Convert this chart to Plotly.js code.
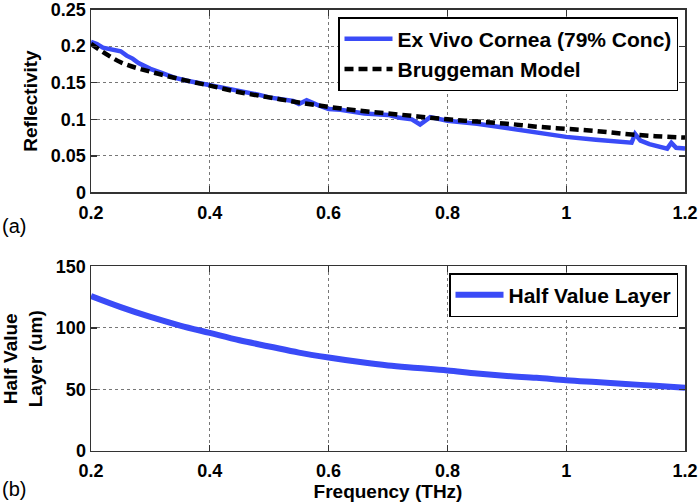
<!DOCTYPE html>
<html>
<head>
<meta charset="utf-8">
<script src="https://cdn.plot.ly/plotly-3.0.1.min.js"></script>
<style>html,body{margin:0;padding:0;background:#fff;}#chart{width:700px;height:503px;}</style>
</head>
<body>
<div id="chart"></div>
<script>
// ---- Data ----
const freqCornea = [0.20,0.21,0.22,0.23,0.24,0.25,0.26,0.27,0.28,0.30,0.32,0.34,0.36,0.38,0.40,0.42,0.44,0.46,0.48,0.50,0.52,0.54,0.55,0.563,0.58,0.60,0.62,0.64,0.66,0.70,0.72,0.74,0.754,0.771,0.80,0.85,0.90,0.95,1.00,1.05,1.08,1.10,1.11,1.116,1.125,1.14,1.16,1.17,1.177,1.185,1.20];
const reflectCornea = [0.206,0.203,0.198,0.196,0.195,0.193,0.187,0.183,0.177,0.169,0.163,0.157,0.153,0.150,0.147,0.144,0.140,0.137,0.134,0.130,0.128,0.125,0.121,0.126,0.120,0.114,0.113,0.111,0.108,0.106,0.102,0.100,0.093,0.103,0.098,0.094,0.088,0.081,0.076,0.072,0.070,0.069,0.068,0.080,0.071,0.066,0.063,0.060,0.068,0.061,0.060];

const freqModel = [0.20,0.25,0.30,0.35,0.40,0.45,0.50,0.55,0.60,0.65,0.70,0.75,0.80,0.85,0.90,0.95,1.00,1.05,1.10,1.15,1.20];
const reflectModel = [0.203,0.178,0.165,0.155,0.146,0.137,0.130,0.123,0.117,0.112,0.108,0.104,0.100,0.097,0.094,0.090,0.087,0.084,0.080,0.077,0.075];

const freqHVL = [0.20,0.25,0.30,0.35,0.40,0.45,0.50,0.55,0.60,0.65,0.70,0.75,0.80,0.85,0.90,0.95,1.00,1.05,1.10,1.15,1.20];
const halfValueLayer = [126,117,109,102,96,90,85,80,76,72.5,69.5,67.5,65.5,63,61,59.5,57.5,56,54.5,53,51.5];

const xTicks = [0.2,0.4,0.6,0.8,1,1.2];
const xTickText = ['0.2','0.4','0.6','0.8','1','1.2'];
const yTicksTop = [0,0.05,0.1,0.15,0.2,0.25];
const yTickTextTop = ['0','0.05','0.1','0.15','0.2','0.25'];
const yTicksBottom = [0,50,100,150];
const yTickTextBottom = ['0','50','100','150'];

const seriesNames = ['Ex Vivo Cornea (79% Conc)','Bruggeman Model','Half Value Layer'];

// ---- Styling ----
const BLUE = '#3a4bf7';
const FONT = 'Liberation Sans, Arial, Helvetica, sans-serif';
const tickFont = {family: FONT, size: 18, color: '#000', weight: 'bold'};
const bold = arr => arr.map(t => '<b>' + t + '</b>');

const axisCommon = {
  showline: true, linecolor: '#333', linewidth: 1.5, mirror: 'ticks',
  ticks: 'inside', ticklen: 6, tickcolor: '#333', tickwidth: 1.2,
  showgrid: true, gridcolor: '#777', gridwidth: 1, griddash: 'dot',
  zeroline: false, tickfont: tickFont, automargin: false, ticklabeloverflow: 'allow'
};

const traces = [
  {x: freqCornea, y: reflectCornea, name: seriesNames[0], type: 'scatter', mode: 'lines',
   line: {color: BLUE, width: 4.5}, xaxis: 'x', yaxis: 'y', legend: 'legend'},
  {x: freqModel, y: reflectModel, name: seriesNames[1], type: 'scatter', mode: 'lines',
   line: {color: '#000', width: 4.5, dash: '9px,5px', shape: 'spline'}, xaxis: 'x', yaxis: 'y', legend: 'legend'},
  {x: freqHVL, y: halfValueLayer, name: seriesNames[2], type: 'scatter', mode: 'lines',
   line: {color: BLUE, width: 6, shape: 'spline'}, xaxis: 'x2', yaxis: 'y2', legend: 'legend2'}
];

const layout = {
  width: 700, height: 503,
  margin: {l: 0, r: 0, t: 0, b: 0},
  paper_bgcolor: '#fff', plot_bgcolor: '#fff',
  font: {family: FONT, color: '#000'},
  xaxis: Object.assign({}, axisCommon, {domain: [0.13, 0.9786], range: [0.2, 1.2],
    tickvals: xTicks, ticktext: bold(xTickText), anchor: 'y', ticklabelstandoff: 3}),
  yaxis: Object.assign({}, axisCommon, {domain: [0.6173, 0.981], range: [0, 0.25],
    tickvals: yTicksTop, ticktext: bold(yTickTextTop), anchor: 'x',
    title: {text: '<b>Reflectivity</b>', font: {family: FONT, size: 19, weight: 'bold'}, standoff: 8}}),
  xaxis2: Object.assign({}, axisCommon, {domain: [0.13, 0.9786], range: [0.2, 1.2],
    tickvals: xTicks, ticktext: bold(xTickText), anchor: 'y2', ticklabelstandoff: 3,
    title: {text: '<b>Frequency (THz)</b>', font: {family: FONT, size: 19, weight: 'bold'}, standoff: 4}}),
  yaxis2: Object.assign({}, axisCommon, {domain: [0.1034, 0.4702], range: [0, 150],
    tickvals: yTicksBottom, ticktext: bold(yTickTextBottom), anchor: 'x2',
    title: {text: '<b>Half Value<br>Layer (um)</b>', font: {family: FONT, size: 19, weight: 'bold'}, standoff: 8}}),
  legend: {x: 678/700, xanchor: 'right', y: 1 - 17/503, yanchor: 'top', itemwidth: 48,
    bgcolor: '#fff', bordercolor: '#000', borderwidth: 1.5,
    font: {family: FONT, size: 21, color: '#000', weight: 'bold'}},
  legend2: {x: 678/700, xanchor: 'right', y: 1 - 273/503, yanchor: 'top', itemwidth: 48,
    bgcolor: '#fff', bordercolor: '#000', borderwidth: 1.5,
    font: {family: FONT, size: 21, color: '#000', weight: 'bold'}},
  annotations: [
    {text: '(a)', xref: 'paper', yref: 'paper', x: 0, xanchor: 'left', y: 1 - 226/503, yanchor: 'middle',
     showarrow: false, font: {family: FONT, size: 20, color: '#000'}},
    {text: '(b)', xref: 'paper', yref: 'paper', x: 0, xanchor: 'left', y: 1 - 489/503, yanchor: 'middle',
     showarrow: false, font: {family: FONT, size: 20, color: '#000'}}
  ],
  showlegend: true
};

Plotly.newPlot('chart', traces, layout, {staticPlot: true, displayModeBar: false});
</script>
</body>
</html>
